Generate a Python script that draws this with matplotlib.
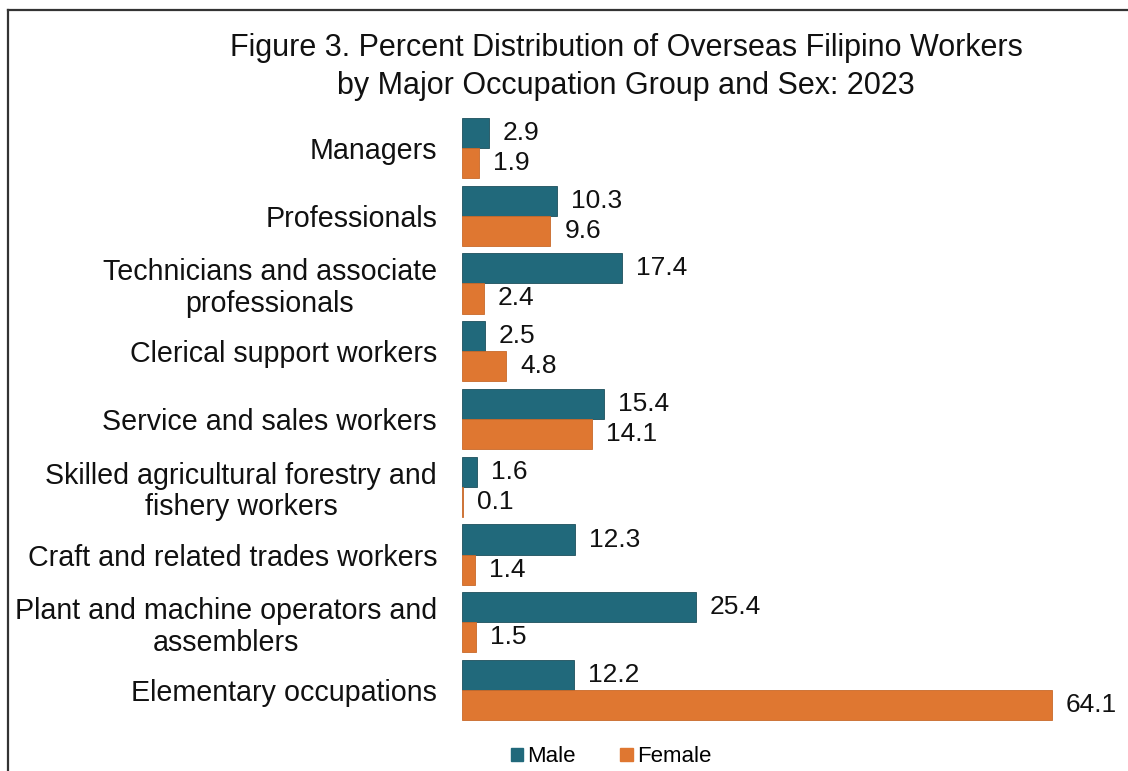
import matplotlib
matplotlib.use("Agg")
import matplotlib.pyplot as plt
from matplotlib.lines import Line2D
import numpy as np

plt.rcParams['font.family'] = ['Liberation Sans', 'DejaVu Sans']

categories = [
    "Managers",
    "Professionals",
    "Technicians and associate\nprofessionals",
    "Clerical support workers",
    "Service and sales workers",
    "Skilled agricultural forestry and\nfishery workers",
    "Craft and related trades workers",
    "Plant and machine operators and\nassemblers",
    "Elementary occupations",
]
male = [2.9, 10.3, 17.4, 2.5, 15.4, 1.6, 12.3, 25.4, 12.2]
female = [1.9, 9.6, 2.4, 4.8, 14.1, 0.1, 1.4, 1.5, 64.1]
series_names = ["Male", "Female"]
title_lines = ["Figure 3. Percent Distribution of Overseas Filipino Workers",
               "by Major Occupation Group and Sex: 2023"]

MALE_C = "#21697B"
FEMALE_C = "#DF7731"

W, H = 1128, 771
fig = plt.figure(figsize=(W / 100, H / 100), dpi=100)

ax_left, ax_right = 462, 1120
ax_top, ax_bot = 114.1, 723.9
ax = fig.add_axes([ax_left / W, 1 - ax_bot / H, (ax_right - ax_left) / W, (ax_bot - ax_top) / H])

y = np.arange(len(categories))
h = 0.443
bm = ax.barh(y - h / 2, male, height=h, color=MALE_C, edgecolor="#1d4f5c", linewidth=0.6)
bf = ax.barh(y + h / 2, female, height=h, color=FEMALE_C, edgecolor="#c8692a", linewidth=0.6)

ax.set_xlim(0, (ax_right - ax_left) / 9.2)
ax.set_ylim(len(categories) - 0.5, -0.5)

for bars, vals in ((bm, male), (bf, female)):
    for b, v in zip(bars, vals):
        ax.annotate(f"{v:.1f}", (b.get_width(), b.get_y() + b.get_height() / 2),
                    xytext=(14, 0), textcoords="offset pixels",
                    ha="left", va="center", fontsize=19, color="#111111")

ax.set_yticks(y)
ax.set_yticklabels(categories, fontsize=20.6, color="#111111", linespacing=1.15)
for t in ax.get_yticklabels():
    t.set_multialignment("center")
ax.tick_params(axis="y", length=0, pad=18)
ax.set_xticks([])
for s in ax.spines.values():
    s.set_visible(False)

for line, base in zip(title_lines, (56, 94)):
    fig.text(626 / W, 1 - base / H, line, ha="center", va="baseline", fontsize=22,
             color="#111111")

handles = [plt.Rectangle((0, 0), 1, 1, color=MALE_C), plt.Rectangle((0, 0), 1, 1, color=FEMALE_C)]
fig.legend(handles, series_names, loc="center", bbox_to_anchor=(611 / W, 1 - 757 / H),
           ncol=2, frameon=False, fontsize=16, handlelength=0.55, handleheight=0.55,
           handletextpad=0.2, columnspacing=2.0, borderpad=0)

# frame lines (left and top)
fig.add_artist(Line2D([8 / W, 8 / W], [0, 1 - 10 / H], color="#333333", linewidth=1.6,
                      transform=fig.transFigure))
fig.add_artist(Line2D([8 / W, 1], [1 - 10 / H, 1 - 10 / H], color="#333333", linewidth=1.6,
                      transform=fig.transFigure))

fig.savefig("out.png", dpi=100, facecolor="white")
